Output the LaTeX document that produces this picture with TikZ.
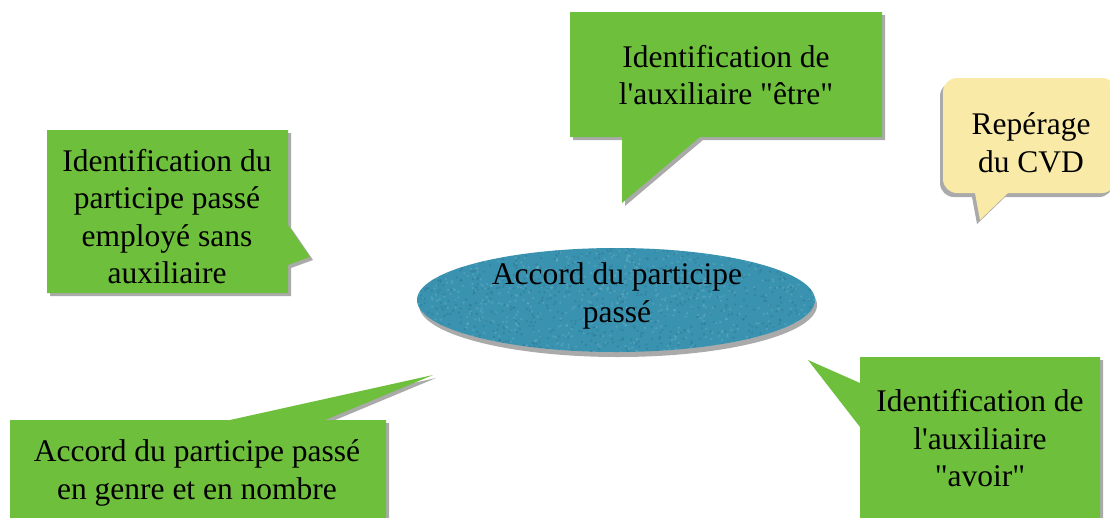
\documentclass[tikz,border=0pt]{standalone}
\usepackage{fontspec}
\setmainfont{Liberation Serif}[Ligatures=TeXOff]
\definecolor{callgreen}{RGB}{110,191,60}
\definecolor{callyellow}{RGB}{249,234,168}
\definecolor{ovalteal}{RGB}{56,146,176}
\definecolor{shadowgray}{RGB}{170,170,170}
\begin{document}
\begin{tikzpicture}[x=1pt,y=-1pt,
  txt/.style={inner sep=0pt,anchor=north,align=center,font=\fontsize{31.5}{37.5}\selectfont},
  shade/.style={fill=shadowgray},
  greenfill/.style={fill=callgreen}]
\useasboundingbox (0,0) rectangle (1110,517);
\fill[white] (0,0) rectangle (1110,517);

% ---- top callout (etre)
\def\etre{(570,12) -- (882,12) -- (882,137) -- (700,137) -- (622,203) -- (622,137) -- (570,137) -- cycle}
\fill[shade,shift={(3,3)}] \etre;
\fill[greenfill] \etre;
\node[txt] (etre) at (726,45) {Identification de\\l'auxiliaire "être"};

% ---- yellow callout
\def\cvd{(943,120) [rounded corners=14pt] -- (943,78) -- (1116,78) -- (1116,193) [sharp corners] -- (1008,193) -- (980,220) -- (975,193) [rounded corners=14pt] -- (943,193) [sharp corners] -- cycle}
\fill[shade,shift={(-3,4)}] \cvd;
\fill[callyellow] \cvd;
\node[txt] (cvd) at (1031,112.5) {Repérage\\du CVD};

% ---- left callout
\def\sans{(47,130) -- (288,130) -- (288,225) -- (310,257) -- (288,265) -- (288,293) -- (47,293) -- cycle}
\fill[shade,shift={(3,3)}] \sans;
\fill[greenfill] \sans;
\node[txt] (sans) at (167,149) {Identification du\\participe passé\\employé sans\\auxiliaire};

% ---- central ellipse
\fill[shade] (618,305) ellipse [x radius=199, y radius=52];
\begin{scope}
  \clip (616,300) ellipse [x radius=199, y radius=52];
  \fill[ovalteal] (410,240) rectangle (820,360);
  \pgfmathsetseed{7}
  \foreach \i in {1,...,1400}{
    \pgfmathsetmacro{\px}{417+398*rnd}
    \pgfmathsetmacro{\py}{247+106*rnd}
    \pgfmathsetmacro{\sh}{rnd}
    \ifdim\sh pt<0.5pt
      \fill[ovalteal!70!black,opacity=0.3] (\px,\py) circle (1.3);
    \else
      \fill[ovalteal!60!white,opacity=0.3] (\px,\py) circle (1.3);
    \fi
  }
\end{scope}
\node[txt] (centre) at (617,262.5) {Accord du participe\\passé};

% ---- bottom-left callout
\def\genre{(10,420) -- (230,420) -- (433,375) -- (325,420) -- (386,420) -- (386,530) -- (10,530) -- cycle}
\fill[shade,shift={(3,3)}] \genre;
\fill[greenfill] \genre;
\node[txt] (genre) at (197,439.5) {Accord du participe passé\\en genre et en nombre};

% ---- bottom-right callout
\def\avoir{(860,357) -- (1100,357) -- (1100,530) -- (860,530) -- (860,427) -- (808,360) -- (860,383) -- cycle}
\fill[shade,shift={(3,3)}] \avoir;
\fill[greenfill] \avoir;
\node[txt] (avoir) at (980,389.5) {Identification de\\l'auxiliaire\\"avoir"};
\end{tikzpicture}
\end{document}
